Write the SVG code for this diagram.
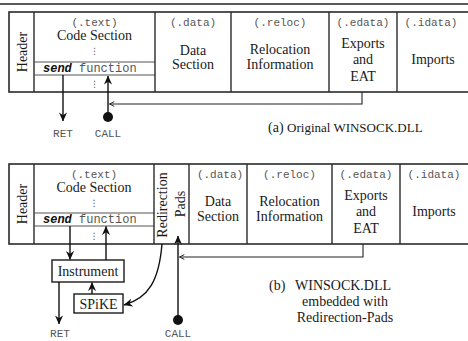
<svg xmlns="http://www.w3.org/2000/svg" width="468" height="341" viewBox="0 0 468 341">
  <style>
    .frame { fill: #fff; stroke: #2a2a2a; stroke-width: 1.6; }
    .col { stroke: #2a2a2a; stroke-width: 1.4; }
    .row { stroke: #555; stroke-width: 1.1; }
    .box { fill: #fff; stroke: #1a1a1a; stroke-width: 1.4; }
    .wire { fill: none; stroke: #111; stroke-width: 1.4; }
    .thin { fill: none; stroke: #222; stroke-width: 1.1; }
    .rm { font-family: 'Liberation Serif', 'Times New Roman', 'DejaVu Serif', serif; font-size: 14px; fill: #1a1a1a; }
    .tt { font-family: 'Liberation Mono', 'Courier New', 'DejaVu Sans Mono', monospace; font-size: 11px; fill: #555; }
    .fn { font-family: 'Liberation Mono', 'Courier New', 'DejaVu Sans Mono', monospace; font-size: 12px; fill: #555; }
    .dots { font-family: 'DejaVu Sans', sans-serif; font-size: 9px; fill: #555; }
    .mid { text-anchor: middle; }
  </style>
  <defs>
    <marker id="head" viewBox="0 0 10 10" refX="9.5" refY="5" markerWidth="9" markerHeight="9" markerUnits="userSpaceOnUse" orient="auto">
      <path d="M0,0.5 L10,5 L0,9.5 L3,5 z" fill="#111"/>
    </marker>
    <marker id="tick" viewBox="0 0 10 10" refX="9" refY="5" markerWidth="6" markerHeight="6" markerUnits="userSpaceOnUse" orient="auto">
      <path d="M1,1 L9,5 L1,9" fill="none" stroke="#222" stroke-width="1.6"/>
    </marker>
  </defs>

  <!-- rule across the top -->
  <line x1="0" y1="4" x2="468" y2="4" stroke="#222" stroke-width="1.5"/>

  <!-- ===== (a) original layout ===== -->
  <g id="dll-a">
    <rect class="frame" x="9" y="12" width="470" height="80"/>
    <g id="a-header">
      <text class="rm mid" transform="translate(27,52) rotate(-90)">Header</text>
    </g>
    <g id="a-text">
      <line class="col" x1="34" y1="12" x2="34" y2="92"/>
      <line class="row" x1="34" y1="62" x2="155" y2="62"/>
      <line class="row" x1="34" y1="75" x2="155" y2="75"/>
      <text class="tt mid" x="94.5" y="26">(.text)</text>
      <text class="rm mid" x="94.5" y="40">Code Section</text>
      <text class="dots mid" x="94.5" y="54">⋮</text>
      <text class="fn" x="43" y="72"><tspan font-weight="bold" font-style="italic" fill="#111">send</tspan> function</text>
      <text class="dots mid" x="94.5" y="87">⋮</text>
    </g>
    <g id="a-data">
      <line class="col" x1="155" y1="12" x2="155" y2="92"/>
      <text class="tt mid" x="193" y="26">(.data)</text>
      <text class="rm mid" x="193" y="55">Data</text>
      <text class="rm mid" x="193" y="69">Section</text>
    </g>
    <g id="a-reloc">
      <line class="col" x1="231" y1="12" x2="231" y2="92"/>
      <text class="tt mid" x="280" y="26">(.reloc)</text>
      <text class="rm mid" x="280" y="54">Relocation</text>
      <text class="rm mid" x="280" y="69">Information</text>
    </g>
    <g id="a-edata">
      <line class="col" x1="329" y1="12" x2="329" y2="92"/>
      <text class="tt mid" x="363" y="26">(.edata)</text>
      <text class="rm mid" x="363" y="48">Exports</text>
      <text class="rm mid" x="363" y="64">and</text>
      <text class="rm mid" x="363" y="81">EAT</text>
    </g>
    <g id="a-idata">
      <line class="col" x1="397" y1="12" x2="397" y2="92"/>
      <text class="tt mid" x="431" y="26">(.idata)</text>
      <text class="rm mid" x="433" y="64">Imports</text>
    </g>
    <g id="a-ret"><text class="tt mid" x="63" y="137">RET</text></g>
    <g id="a-call"><text class="tt mid" x="108" y="137">CALL</text></g>
    <g id="a-caption">
      <text class="rm" x="268" y="132">(a) <tspan font-size="13">Original WINSOCK.DLL</tspan></text>
    </g>
  </g>

  <g id="connectors-a">
    <line class="wire" x1="63" y1="75" x2="63" y2="121" marker-end="url(#head)"/>
    <line class="wire" x1="108" y1="117" x2="108" y2="76" marker-end="url(#head)"/>
    <circle cx="108" cy="117" r="5" fill="#111"/>
    <polyline class="thin" points="362,92 362,104 109.5,104" marker-end="url(#tick)"/>
  </g>

  <!-- ===== (b) layout with redirection pads ===== -->
  <g id="dll-b">
    <rect class="frame" x="9" y="164" width="470" height="80"/>
    <g id="b-header">
      <text class="rm mid" transform="translate(27,204) rotate(-90)">Header</text>
    </g>
    <g id="b-text">
      <line class="col" x1="34" y1="164" x2="34" y2="244"/>
      <line class="row" x1="34" y1="213" x2="154" y2="213"/>
      <line class="row" x1="34" y1="226" x2="154" y2="226"/>
      <text class="tt mid" x="94" y="178">(.text)</text>
      <text class="rm mid" x="94" y="192">Code Section</text>
      <text class="dots mid" x="94" y="206">⋮</text>
      <text class="fn" x="43" y="223"><tspan font-weight="bold" font-style="italic" fill="#111">send</tspan> function</text>
      <text class="dots mid" x="94" y="239">⋮</text>
    </g>
    <g id="b-pads">
      <line class="col" x1="154" y1="164" x2="154" y2="244"/>
      <text class="rm mid" transform="translate(167,205) rotate(-90)">Redirection</text>
      <text class="rm mid" transform="translate(185,204) rotate(-90)">Pads</text>
    </g>
    <g id="b-data">
      <line class="col" x1="189" y1="164" x2="189" y2="244"/>
      <text class="tt mid" x="220" y="178">(.data)</text>
      <text class="rm mid" x="218" y="206">Data</text>
      <text class="rm mid" x="218" y="221">Section</text>
    </g>
    <g id="b-reloc">
      <line class="col" x1="247" y1="164" x2="247" y2="244"/>
      <text class="tt mid" x="289.5" y="178">(.reloc)</text>
      <text class="rm mid" x="289.5" y="206">Relocation</text>
      <text class="rm mid" x="289.5" y="221">Information</text>
    </g>
    <g id="b-edata">
      <line class="col" x1="332" y1="164" x2="332" y2="244"/>
      <text class="tt mid" x="366" y="178">(.edata)</text>
      <text class="rm mid" x="366" y="200">Exports</text>
      <text class="rm mid" x="366" y="216">and</text>
      <text class="rm mid" x="366" y="233">EAT</text>
    </g>
    <g id="b-idata">
      <line class="col" x1="400" y1="164" x2="400" y2="244"/>
      <text class="tt mid" x="434" y="178">(.idata)</text>
      <text class="rm mid" x="434" y="216">Imports</text>
    </g>
    <g id="instrument">
      <rect class="box" x="52" y="260" width="72" height="22"/>
      <text class="rm mid" x="88" y="276">Instrument</text>
    </g>
    <g id="spike">
      <rect class="box" x="74" y="294" width="49" height="19"/>
      <text class="rm mid" x="98.5" y="309">SPiKE</text>
    </g>
    <g id="b-ret"><text class="tt mid" x="60" y="337">RET</text></g>
    <g id="b-call"><text class="tt mid" x="178" y="337">CALL</text></g>
    <g id="b-caption">
      <text class="rm" x="269" y="290">(b)</text>
      <text class="rm" x="295" y="290">WINSOCK.DLL</text>
      <text class="rm mid" x="345" y="306">embedded with</text>
      <text class="rm mid" x="345" y="322">Redirection-Pads</text>
    </g>
  </g>

  <g id="connectors-b">
    <line class="wire" x1="70" y1="226" x2="70" y2="259.5" marker-end="url(#head)"/>
    <line class="wire" x1="106" y1="260" x2="106" y2="226.5" marker-end="url(#head)"/>
    <line class="wire" x1="92" y1="294" x2="92" y2="282.5" marker-end="url(#head)"/>
    <line class="wire" x1="59" y1="282" x2="59" y2="324" marker-end="url(#head)"/>
    <path class="wire" d="M162,244 C159,280 149,298 124,305" marker-end="url(#head)"/>
    <line class="wire" x1="178" y1="320" x2="178" y2="236" marker-end="url(#head)"/>
    <circle cx="178" cy="320" r="5" fill="#111"/>
    <polyline class="thin" points="363,244 363,257 179.5,257" marker-end="url(#tick)"/>
  </g>
</svg>
